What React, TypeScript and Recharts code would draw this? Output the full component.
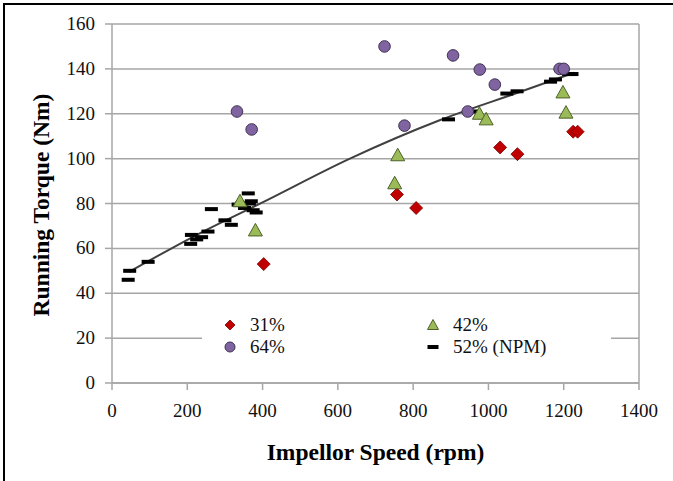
import React from 'react';
import {
  ComposedChart,
  Scatter,
  Line,
  XAxis,
  YAxis,
  CartesianGrid,
  ReferenceLine
} from 'recharts';

// 31% fill
const speed31 = [403, 757, 808, 1031, 1077, 1225, 1237];
const torque31 = [53, 84, 78, 105, 102, 112, 112];

// 42% fill
const speed42 = [340, 381, 751, 759, 976, 994, 1198, 1206];
const torque42 = [81, 68, 89, 101.5, 120, 117.5, 129.5, 120.5];

// 64% fill
const speed64 = [332, 371, 724, 777, 906, 945, 977, 1017, 1189, 1200];
const torque64 = [121, 113, 150, 114.7, 146, 121, 139.7, 133, 140, 140];

// 52% (NPM)
const speed52 = [43, 47, 96, 209, 211, 225, 238, 255, 264, 300, 317, 335, 345, 352, 362, 365, 370, 375, 383, 894, 961, 1049, 1076, 1165, 1178, 1213, 1222];
const torque52 = [46, 50, 54, 62, 66, 64, 65, 67.5, 77.5, 72.5, 70.5, 79.5, 80, 78, 84.5, 80, 81, 77, 76, 117.5, 121, 129, 130, 134.3, 135.3, 137.7, 137.7];

// trendline
const trendSpeed = [45, 233, 400, 632, 872, 1085, 1227];
const trendTorque = [49.5, 66.7, 80.5, 100, 117.2, 129.8, 138.3];

const xTicks = [0, 200, 400, 600, 800, 1000, 1200, 1400];
const yTicks = [0, 20, 40, 60, 80, 100, 120, 140, 160];

const zip = (xs: number[], ys: number[]) => xs.map((x, i) => ({ x, y: ys[i] }));

const data31 = zip(speed31, torque31);
const data42 = zip(speed42, torque42);
const data64 = zip(speed64, torque64);
const data52 = zip(speed52, torque52);
const trendData = zip(trendSpeed, trendTorque);

const FONT = 'Liberation Serif, Times New Roman, serif';
const GRID = '#a6a6a6';

const Diamond = ({ cx, cy }: any) => (
  <path d={`M${cx},${cy - 6.5} L${cx + 6.5},${cy} L${cx},${cy + 6.5} L${cx - 6.5},${cy} Z`} fill="#c00000" stroke="#7a0000" strokeWidth={0.8} />
);
const Circle = ({ cx, cy }: any) => (
  <circle cx={cx} cy={cy} r={5.8} fill="#8064a2" stroke="#3f3151" strokeWidth={1} />
);
const Triangle = ({ cx, cy }: any) => (
  <path d={`M${cx},${cy - 7} L${cx + 7},${cy + 5.5} L${cx - 7},${cy + 5.5} Z`} fill="#9bbb59" stroke="#4f6228" strokeWidth={1} />
);
const Dash = ({ cx, cy }: any) => (
  <rect x={cx - 6.5} y={cy - 2} width={13} height={4} fill="#000" />
);

const XTick = ({ x, y, payload }: any) => (
  <text x={x} y={y} dy={18} textAnchor="middle" fontFamily={FONT} fontSize={19} fill="#111">{payload.value}</text>
);
const YTick = ({ x, y, payload }: any) => (
  <text x={x} y={y} dy={6} textAnchor="end" fontFamily={FONT} fontSize={19} fill="#111">{payload.value}</text>
);

const legendItems = [
  { label: '31%', icon: (x: number, y: number) => <path d={`M${x},${y - 5} L${x + 5},${y} L${x},${y + 5} L${x - 5},${y} Z`} fill="#c00000" stroke="#7a0000" strokeWidth={0.8} /> },
  { label: '42%', icon: (x: number, y: number) => <path d={`M${x},${y - 5.5} L${x + 5.5},${y + 4.5} L${x - 5.5},${y + 4.5} Z`} fill="#9bbb59" stroke="#4f6228" strokeWidth={1} /> },
  { label: '64%', icon: (x: number, y: number) => <circle cx={x} cy={y} r={5} fill="#8064a2" stroke="#3f3151" strokeWidth={1} /> },
  { label: '52% (NPM)', icon: (x: number, y: number) => <rect x={x - 5.5} y={y - 2} width={11} height={4} fill="#000" /> },
];

const ChartLegend = () => (
  <div style={{ position: 'absolute', left: 202, top: 313, width: 409, height: 47, background: '#fff', fontFamily: FONT, fontSize: 19, color: '#111' }}>
    {legendItems.map((it, i) => {
      const left = i % 2 === 0 ? 20 : 223;
      const top = i < 2 ? 12 : 34;
      return (
        <div key={it.label} style={{ position: 'absolute', left, top: top - 11, height: 22, display: 'flex', alignItems: 'center', whiteSpace: 'nowrap' }}>
          <svg width={16} height={16} style={{ marginRight: 12 }}>{it.icon(8, 8)}</svg>
          <span style={{ fontFamily: FONT }}>{it.label}</span>
        </div>
      );
    })}
  </div>
);

export default function App() {
  return (
    <div style={{ position: 'absolute', left: 0, top: 0, width: 673, height: 481, background: '#fff', overflow: 'hidden', fontFamily: FONT }}>
      <div style={{ position: 'absolute', left: 3, top: 3, width: 680, height: 490, borderTop: '2.5px solid #000', borderLeft: '2.5px solid #000' }} />
      <ComposedChart width={673} height={481} margin={{ top: 24, right: 34, bottom: 0, left: 0 }}>
        <CartesianGrid vertical={false} stroke={GRID} strokeWidth={1.5} />
        <XAxis
          type="number"
          dataKey="x"
          domain={[0, 1400]}
          ticks={xTicks}
          height={98}
          stroke={GRID}
          strokeWidth={1.5}
          tickSize={7}
          tickMargin={9}
          tick={<XTick />}
          label={{
            content: () => (
              <text x={375.5} y={452} textAnchor="middle" dominantBaseline="central" fontFamily={FONT} fontWeight="bold" fontSize={23.5} fill="#000">
                Impellor Speed (rpm)
              </text>
            )
          }}
        />
        <YAxis
          type="number"
          dataKey="y"
          domain={[0, 160]}
          ticks={yTicks}
          width={112}
          stroke={GRID}
          strokeWidth={1.5}
          tickSize={7}
          tickMargin={10}
          tick={<YTick />}
          label={{
            content: () => (
              <text x={41} y={205} transform="rotate(-90 41 205)" textAnchor="middle" dominantBaseline="central" fontFamily={FONT} fontWeight="bold" fontSize={23.5} fill="#000">
                Running Torque (Nm)
              </text>
            )
          }}
        />
        <ReferenceLine x={1400} stroke={GRID} strokeWidth={1.5} />
        <Line data={trendData} dataKey="y" type="monotone" stroke="#404040" strokeWidth={2} dot={false} isAnimationActive={false} />
        <Scatter name="52% (NPM)" data={data52} fill="#000" shape={Dash} isAnimationActive={false} />
        <Scatter name="31%" data={data31} fill="#c00000" shape={Diamond} isAnimationActive={false} />
        <Scatter name="42%" data={data42} fill="#9bbb59" shape={Triangle} isAnimationActive={false} />
        <Scatter name="64%" data={data64} fill="#8064a2" shape={Circle} isAnimationActive={false} />
      </ComposedChart>
      <ChartLegend />
    </div>
  );
}
